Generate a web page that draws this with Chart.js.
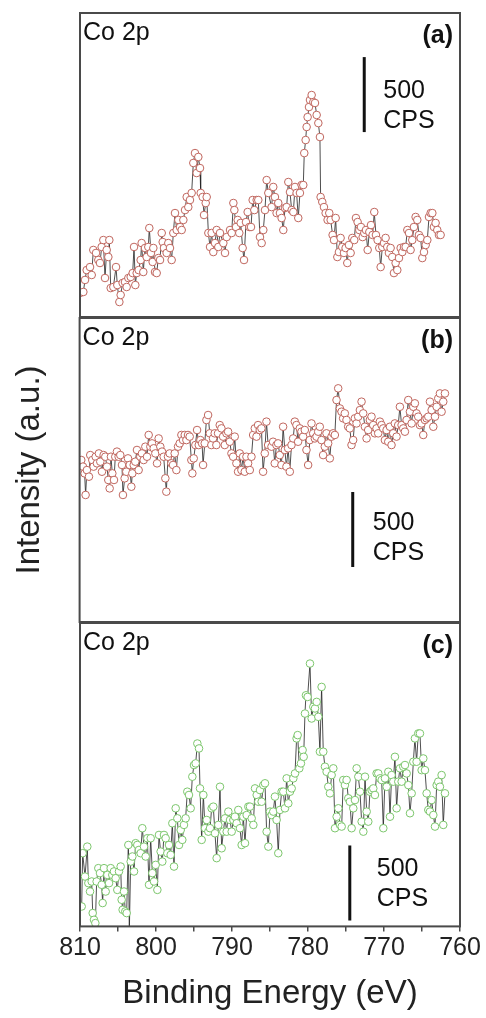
<!DOCTYPE html>
<html>
<head>
<meta charset="utf-8">
<script src="https://cdn.jsdelivr.net/npm/chart.js@4.4.1/dist/chart.umd.min.js"></script>
<style>
  body { margin: 0; background: #fff; }
  #wrap { position: relative; width: 486px; height: 1018px; }
  canvas { position: absolute; left: 0; }
</style>
</head>
<body>
<div id="wrap">
  <canvas id="panelA" width="486" height="330" style="top:0px"></canvas>
  <canvas id="panelB" width="486" height="340" style="top:300px"></canvas>
  <canvas id="panelC" width="486" height="418" style="top:600px"></canvas>
</div>
<script>
// Co 2p XPS spectra, binding energy (eV) vs intensity (CPS)
const energyA = [
  810.00,809.56,809.34,809.12,808.68,808.46,808.25,807.89,807.59,807.37,
  807.15,806.93,806.71,806.49,806.27,806.14,805.96,805.61,805.26,805.09,
  804.82,804.65,804.39,804.08,803.86,803.64,803.33,803.07,802.89,802.72,
  802.54,802.28,802.02,801.89,801.67,801.45,801.23,801.01,800.88,800.66,
  800.44,800.35,800.13,799.91,799.69,799.47,799.25,799.12,798.95,798.60,
  798.38,798.16,797.94,797.72,797.50,797.28,797.06,796.84,796.62,796.40,
  796.18,795.96,795.75,795.53,795.31,795.09,794.87,794.65,794.43,794.21,
  794.12,793.86,793.68,793.46,793.33,793.11,792.89,792.68,792.46,792.24,
  792.02,791.80,791.58,791.14,790.92,790.70,790.26,790.04,789.82,789.69,
  789.47,789.25,789.04,788.86,788.60,788.42,788.16,787.94,787.72,787.50,
  787.28,787.06,786.75,786.54,786.32,786.10,785.88,785.66,785.44,785.22,
  784.79,784.57,784.35,784.13,783.91,783.69,783.47,783.25,783.03,782.81,
  782.59,782.37,782.15,781.93,781.71,781.50,781.28,781.06,780.84,780.62,
  780.49,780.31,780.18,780.05,779.87,779.74,779.52,779.30,779.08,778.86,
  778.64,778.43,778.34,778.12,777.90,777.68,777.42,777.20,777.02,776.76,
  776.58,776.36,776.14,775.93,775.71,775.49,775.27,775.05,774.83,774.61,
  774.39,774.17,773.91,773.69,773.47,773.25,773.03,772.81,772.59,772.37,
  772.15,771.93,771.71,771.50,771.28,771.06,770.84,770.62,770.44,770.22,
  770.00,769.79,769.57,769.35,769.13,768.91,768.69,768.47,768.25,768.03,
  767.81,767.59,767.37,767.15,766.93,766.71,766.50,766.28,766.06,765.84,
  765.62,765.40,765.18,764.96,764.74,764.52,764.30,764.08,763.86,763.64,
  763.43,763.21,762.99,762.77,762.55
];
const countsA = [
  160,167,247,313,333,280,447,427,380,360,
  467,513,260,447,400,513,193,200,333,213,
  100,147,227,233,200,260,267,293,467,213,
  293,313,380,493,300,460,400,467,593,427,
  367,460,300,293,393,380,560,500,460,427,
  493,460,380,560,693,580,647,600,580,647,
  713,800,733,780,827,1027,1093,960,1067,993,
  827,800,680,760,800,560,467,560,433,493,
  580,467,560,493,427,533,580,560,760,713,
  600,647,560,627,460,380,633,700,600,600,
  780,713,780,780,533,493,580,713,913,827,
  733,867,800,693,760,693,660,580,727,733,
  900,833,713,700,867,827,660,827,880,880,
  1093,1180,1267,1333,1400,1447,1480,1433,1427,1347,
  1293,1200,800,767,733,693,647,693,647,547,
  513,660,400,433,527,467,427,460,360,480,
  427,527,513,660,633,580,600,533,560,580,
  447,567,613,547,700,547,513,460,333,467,
  493,527,467,427,460,400,293,360,313,393,
  460,433,467,467,580,560,447,513,600,667,
  647,547,527,393,433,480,513,667,693,693,
  600,627,580,547,547
];

const energyB = [
  809.78,809.56,809.34,809.21,809.04,808.77,808.60,808.33,808.16,807.89,
  807.72,807.46,807.28,807.06,806.84,806.62,806.40,806.23,806.05,805.88,
  805.70,805.48,805.31,805.09,804.87,804.65,804.43,804.30,804.08,803.86,
  803.64,803.42,803.20,803.07,802.89,802.68,802.46,802.24,802.02,801.80,
  801.58,801.36,801.14,800.92,800.70,800.48,800.26,800.04,799.82,799.61,
  799.39,799.17,798.95,798.73,798.60,798.38,798.16,797.94,797.72,797.50,
  797.28,797.06,796.84,796.62,796.40,796.18,795.96,795.75,795.53,795.31,
  795.18,795.00,794.78,794.56,794.34,794.12,793.90,793.77,793.55,793.33,
  793.11,792.89,792.68,792.46,792.24,792.02,791.80,791.58,791.36,791.14,
  790.92,790.70,790.48,790.26,790.04,789.82,789.61,789.39,789.17,788.95,
  788.73,788.51,788.29,788.07,787.85,787.63,787.41,787.19,786.97,786.75,
  786.54,786.32,786.10,785.88,785.66,785.44,785.22,
  784.78,784.57,784.35,784.13,783.91,783.69,783.47,783.25,783.03,782.81,
  782.59,782.37,782.15,781.93,781.71,781.50,781.28,781.06,780.84,780.62,
  780.40,780.18,779.96,779.74,779.52,779.30,779.08,778.86,778.64,778.43,
  778.21,777.99,777.77,777.55,777.33,777.11,776.89,776.67,776.45,776.23,
  776.01,775.79,775.57,775.36,775.14,774.92,774.70,774.48,774.26,774.04,
  773.82,773.60,773.38,773.16,772.94,772.72,772.50,772.28,772.07,771.85,
  771.63,771.41,771.19,770.97,770.75,770.53,770.31,770.09,769.87,769.65,
  769.43,769.21,769.00,768.78,768.56,768.34,768.12,767.90,767.68,767.46,
  767.24,767.02,766.80,766.58,766.36,766.14,765.93,765.71,765.49,765.27,
  765.05,764.83,764.61,764.39,764.17,763.95,763.73,763.51,763.29,763.07,
  762.86,762.64,762.42,762.20,761.98
];
const countsB = [
  1080,1036,991,847,1013,969,1113,1080,1036,1102,
  1058,1124,1069,1002,1113,1102,1036,947,891,1102,
  991,947,1102,1136,1102,1113,1047,847,958,1002,
  1091,1047,902,991,1047,1069,1147,1013,1102,1124,
  1080,1169,1102,1247,1169,1191,1158,1124,1058,1224,
  1169,1136,1102,958,869,1102,1124,1058,1047,1124,
  1013,1169,1191,1247,1213,1247,1213,1247,1236,1080,
  991,1091,1180,1280,1180,1213,1191,1047,1191,1347,
  1380,1258,1180,1224,1258,1180,1258,1313,1291,1236,
  1180,1258,1269,1202,1124,1102,1236,1058,1002,1124,
  1013,1102,1002,1102,1058,1013,1102,1247,1291,1236,
  1313,1280,1291,1002,1124,1336,1180,
  1169,1202,1058,1180,1191,1113,1047,1302,1147,1036,
  1158,1002,1180,1224,1336,1313,1202,1291,1269,1236,
  1280,1147,1047,1213,1324,1258,1224,1236,1269,1302,
  1213,1113,1169,1258,1191,1091,1236,1258,1247,1480,
  1558,1424,1402,1358,1391,1347,1302,1291,1180,1213,
  1358,1324,1369,1413,1469,1391,1302,1224,1280,1347,
  1369,1313,1258,1291,1258,1336,1313,1291,1213,1280,
  1202,1302,1180,1258,1324,1236,1313,1435,1313,1291,
  1269,1347,1480,1402,1324,1435,1458,1391,1369,1313,
  1324,1247,1347,1358,1369,1469,1413,1302,1369,1435,
  1491,1524,1402,1469,1524
];

const energyC = [
  809.78,809.65,809.34,809.04,808.90,808.68,808.46,808.33,808.16,807.98,
  807.81,807.59,807.37,807.15,807.02,806.84,806.62,806.40,806.18,805.96,
  805.75,805.53,805.31,805.09,804.87,804.65,804.52,804.39,804.21,804.04,
  803.86,803.64,803.51,803.33,803.11,802.89,802.68,802.46,802.24,802.02,
  801.80,801.58,801.36,801.14,800.92,800.70,800.48,800.26,800.04,799.82,
  799.61,799.39,799.17,798.95,798.73,798.51,798.29,798.07,797.85,797.63,
  797.41,797.19,796.97,796.75,796.54,796.32,796.10,795.88,795.66,795.44,
  795.22,795.00,794.78,794.56,794.34,794.21,793.99,793.77,793.55,793.33,
  793.11,792.89,792.68,792.46,792.24,792.02,791.80,791.58,791.36,791.14,
  790.92,790.70,790.48,790.26,790.04,789.82,789.61,789.39,789.17,788.95,
  788.73,788.51,788.29,788.07,787.85,787.63,787.41,787.19,786.97,786.75,
  786.54,786.32,786.10,785.88,785.66,785.44,785.22,
  785.00,784.78,784.57,784.35,784.13,783.91,783.69,783.47,783.25,783.03,
  782.81,782.59,782.37,782.15,781.93,781.71,781.50,781.36,781.14,780.93,
  780.71,780.57,780.40,780.27,780.05,779.74,779.52,779.30,779.08,778.86,
  778.64,778.43,778.21,777.99,777.77,777.55,777.33,777.11,776.89,776.67,
  776.45,776.23,776.01,775.79,775.57,775.36,775.14,774.92,774.70,774.48,
  774.26,774.04,773.82,773.60,773.38,773.16,772.94,772.72,772.50,772.28,
  772.07,771.85,771.63,771.41,771.19,770.97,770.75,770.53,770.31,770.09,
  769.87,769.65,769.43,769.21,769.00,768.78,768.56,768.34,768.12,767.90,
  767.68,767.46,767.24,767.02,766.80,766.58,766.36,766.14,765.93,765.71,
  765.49,765.27,765.05,764.83,764.61,764.39,764.17,763.95,763.73,763.51,
  763.29,763.07,762.86,762.64,762.42,762.20,761.98
];
const countsC = [
  133,489,333,533,289,233,300,89,44,22,
  300,389,356,278,156,389,233,344,289,389,
  344,367,322,244,367,400,178,111,233,100,
  89,544,-33,433,467,367,556,544,511,489,
  656,533,467,589,278,589,356,300,411,244,
  611,500,433,611,589,489,544,478,689,400,
  789,722,544,644,578,678,722,900,878,789,
  1000,1078,1089,1222,1189,922,578,878,656,711,
  633,656,789,800,622,456,678,933,522,633,
  722,633,767,711,633,711,733,689,778,656,
  544,733,556,744,800,800,722,678,922,878,
  833,911,833,944,956,633,533,
  767,744,767,867,711,489,778,900,900,789,
  989,822,900,922,989,1022,1256,1278,1056,1089,
  1178,1133,1422,1544,1533,1756,1389,1467,1456,1500,
  1400,1167,1600,1167,1067,1033,933,889,1011,1056,
  656,733,789,678,667,978,944,978,856,833,
  656,789,844,1056,1000,900,700,633,1000,767,
  700,900,911,922,878,1022,1022,989,978,656,
  989,933,1033,733,1011,967,1133,789,967,1056,
  967,1067,1078,1022,944,756,889,1100,1256,1100,
  1289,1289,1044,1122,1044,889,778,767,844,744,
  667,944,967,933,1011,678,889
];

// 500 CPS scale bars: position (eV) and lower end (CPS) per panel
const barEnergy = [772.6, 774.1, 774.5];
const barStart = [1233, 367, 40];
const barSpan = 500;
const barLabels = ['500', 'CPS'];

const panelLabel = 'Co 2p';
const panelLetters = ['(a)', '(b)', '(c)'];
const xTicks = [810, 800, 790, 780, 770, 760];

const FONT = "'Liberation Sans', Arial, sans-serif";
const yMax = 2027;
// scale bar text placement (px from the bar's top end)
const barTextDx = [19, 20, 27];
const barTextDy = [41, 38, 30];

// frame around the plot area plus the in-panel text
const framePlugin = {
  id: 'frame',
  afterDatasetsDraw(chart) {
    const { ctx, chartArea: a, scales } = chart;
    const i = chart.options.panelIndex;
    ctx.save();
    ctx.strokeStyle = '#4a4a4a';
    ctx.lineWidth = 2;
    ctx.strokeRect(a.left, a.top, a.right - a.left, a.bottom - a.top);

    ctx.fillStyle = '#111';
    ctx.textBaseline = 'alphabetic';
    ctx.font = '25px ' + FONT;
    ctx.textAlign = 'left';
    ctx.fillText(panelLabel, a.left + 3, a.top + 27);

    ctx.font = 'bold 25px ' + FONT;
    ctx.textAlign = 'right';
    ctx.fillText(panelLetters[i], a.right - 7, a.top + 30);

    const bx = scales.x.getPixelForValue(barEnergy[i]);
    const bt = scales.y.getPixelForValue(barStart[i] + barSpan);
    ctx.font = '25px ' + FONT;
    ctx.textAlign = 'left';
    ctx.fillText(barLabels[0], bx + barTextDx[i], bt + barTextDy[i]);
    ctx.fillText(barLabels[1], bx + barTextDx[i], bt + barTextDy[i] + 30);
    ctx.restore();
  }
};

function makePanel(id, i, energy, counts, color, extra) {
  const showX = i === 2;
  const showY = i === 1;
  return new Chart(document.getElementById(id), {
    type: 'line',
    data: {
      datasets: [{
        data: energy.map((e, k) => ({ x: e, y: counts[k] })),
        borderColor: '#222',
        borderWidth: 0.8,
        tension: 0,
        pointRadius: 3.8,
        pointBorderWidth: 1,
        pointBackgroundColor: '#fff',
        pointBorderColor: color
      }, {
        data: [{ x: barEnergy[i], y: barStart[i] }, { x: barEnergy[i], y: barStart[i] + barSpan }],
        borderColor: '#111',
        borderWidth: 3,
        pointRadius: 0
      }]
    },
    options: {
      panelIndex: i,
      responsive: false,
      animation: false,
      devicePixelRatio: 1,
      layout: { padding: extra },
      plugins: { legend: { display: false }, tooltip: { enabled: false } },
      scales: {
        x: {
          type: 'linear',
          reverse: true,
          min: 760,
          max: 810,
          display: showX,
          grid: { display: true, drawOnChartArea: false, drawTicks: true, tickLength: 5, color: '#4a4a4a', lineWidth: 1.5 },
          border: { display: false },
          ticks: {
            stepSize: 5,
            autoSkip: false,
            maxRotation: 0,
            padding: 2,
            color: '#222',
            font: { size: 25, family: FONT },
            callback: v => xTicks.includes(v) ? v : ''
          },
          title: {
            display: true,
            text: 'Binding Energy (eV)',
            color: '#222',
            font: { size: 33, family: FONT },
            padding: { top: 9, bottom: 0 }
          }
        },
        y: {
          min: 0,
          max: yMax,
          display: showY,
          grid: { display: false },
          border: { display: false },
          ticks: { display: false },
          title: {
            display: true,
            text: 'Intensity (a.u.)',
            color: '#222',
            font: { size: 33, family: FONT },
            padding: { top: 4, bottom: 22 }
          }
        }
      }
    },
    plugins: [framePlugin]
  });
}

makePanel('panelA', 0, energyA, countsA, '#c0665e', { left: 80, right: 26, top: 13, bottom: 13 });
makePanel('panelB', 1, energyB, countsB, '#c0665e', { left: 6, right: 26, top: 18, bottom: 18 });
makePanel('panelC', 2, energyC, countsC, '#7cc66c', { left: 80, right: 26, top: 23, bottom: 4 });
</script>
</body>
</html>
